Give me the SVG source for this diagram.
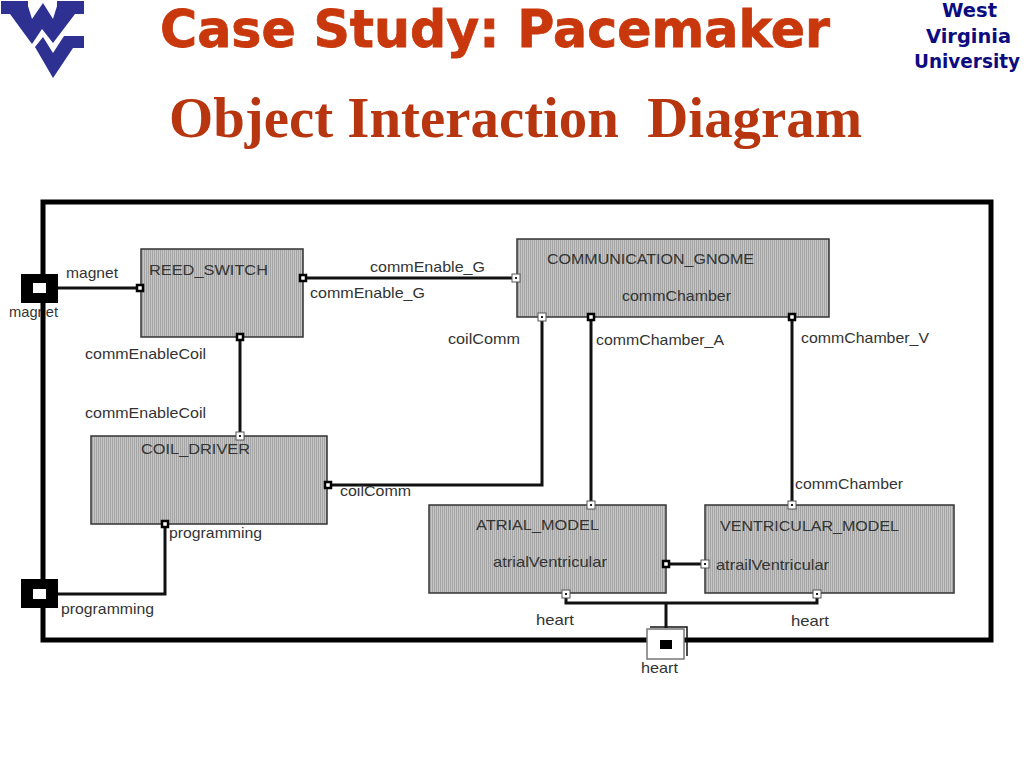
<svg xmlns="http://www.w3.org/2000/svg" width="1024" height="768" viewBox="0 0 1024 768">
<style>
.t{font-family:"Liberation Sans",Arial,sans-serif;font-size:15px;fill:#333}
.n{fill:url(#hatch);stroke:#333;stroke-width:1.5}
.c{fill:none;stroke:#111;stroke-width:3}
.po{fill:#fff;stroke:#000;stroke-width:2.5}
.pi{fill:#fff;stroke:#555;stroke-width:1}
.d{fill:#222}
.h1{font-family:"DejaVu Sans",sans-serif;font-weight:700;font-size:52px;fill:#c8380c;stroke:#c8380c;stroke-width:.8}
.h2{font-family:"Liberation Serif",serif;font-weight:700;font-size:57px;fill:#b8360f;white-space:pre}
.w{font-family:"DejaVu Sans",sans-serif;font-weight:700;font-size:19px;fill:#0c0c80}
</style>
<defs>
<pattern id="hatch" width="2" height="2" patternUnits="userSpaceOnUse"><rect width="2" height="2" fill="#c6c6c6"/><rect width="1" height="2" fill="#a4a4a4"/></pattern>
</defs>
<rect width="1024" height="768" fill="#fff"/>
<g id="logo"><path fill="#2e3192" d="M1 1H28V6L32 19L43 3L53 19L57 6V1H84V14H75L53 43L42 29L32 44L10 14H1Z"/><path fill="#2e3192" d="M35 47L43 37L53 53L64 36H84V48H73L53 78Z"/></g>
<text class="h1" x="160" y="47" textLength="670" lengthAdjust="spacingAndGlyphs">Case Study: Pacemaker</text>
<text class="h2" x="169" y="137" textLength="693" lengthAdjust="spacingAndGlyphs">Object Interaction  Diagram</text>
<text class="w" x="942" y="17" textLength="55" lengthAdjust="spacingAndGlyphs">West</text><text class="w" x="926" y="43" textLength="85" lengthAdjust="spacingAndGlyphs">Virginia</text><text class="w" x="914" y="68" textLength="106" lengthAdjust="spacingAndGlyphs">University</text>
<text class="t" x="9" y="317" textLength="49" lengthAdjust="spacingAndGlyphs">magnet</text>
<rect id="boundary" x="43" y="202" width="948" height="438" fill="none" stroke="#000" stroke-width="5"/>
<g id="connectors">
<path class="c" d="M58 288H140"/>
<path class="c" d="M303 278H516"/>
<path class="c" d="M240 337V436"/>
<path class="c" d="M328 485H542V317"/>
<path class="c" d="M591 317V505"/>
<path class="c" d="M792 317V505"/>
<path class="c" d="M165 524V594H58"/>
<path class="c" d="M666 564H704"/>
<path class="c" d="M566 594V603H817V594"/>
<path class="c" d="M666 603V628"/>
</g>
<g id="reed_switch"><rect class="n" x="141" y="249" width="162" height="88"/><text class="t" x="149" y="275" textLength="119" lengthAdjust="spacingAndGlyphs">REED_SWITCH</text></g>
<g id="communication_gnome"><rect class="n" x="517" y="239" width="312" height="78"/><text class="t" x="547" y="264" textLength="207" lengthAdjust="spacingAndGlyphs">COMMUNICATION_GNOME</text><text class="t" x="622" y="301" textLength="109" lengthAdjust="spacingAndGlyphs">commChamber</text></g>
<g id="coil_driver"><rect class="n" x="91" y="436" width="236" height="88"/><text class="t" x="141" y="454" textLength="109" lengthAdjust="spacingAndGlyphs">COIL_DRIVER</text></g>
<g id="atrial_model"><rect class="n" x="429" y="505" width="237" height="88"/><text class="t" x="476" y="530" textLength="123" lengthAdjust="spacingAndGlyphs">ATRIAL_MODEL</text><text class="t" x="493" y="567" textLength="114" lengthAdjust="spacingAndGlyphs">atrialVentricular</text></g>
<g id="ventricular_model"><rect class="n" x="705" y="505" width="249" height="88"/><text class="t" x="720" y="531" textLength="179" lengthAdjust="spacingAndGlyphs">VENTRICULAR_MODEL</text><text class="t" x="716" y="570" textLength="113" lengthAdjust="spacingAndGlyphs">atrailVentricular</text></g>
<g id="port_magnet"><rect x="21" y="274" width="37" height="29" fill="#000"/><rect x="33" y="283" width="13" height="10" fill="#fff"/></g>
<g id="port_programming"><rect x="21" y="579" width="37" height="29" fill="#000"/><rect x="33" y="589" width="13" height="10" fill="#fff"/><text class="t" x="61" y="614" textLength="93" lengthAdjust="spacingAndGlyphs">programming</text></g>
<g id="port_heart"><path d="M650 627H687V656" fill="none" stroke="#111" stroke-width="1.5"/><rect x="647" y="629" width="37" height="30" fill="#fff" stroke="#777" stroke-width="1.5"/><rect x="660" y="640" width="12" height="9" fill="#000"/><text class="t" x="641" y="673" textLength="37" lengthAdjust="spacingAndGlyphs">heart</text></g>
<g id="ports">
<rect class="po" x="137" y="285" width="6" height="6"/>
<rect class="po" x="300" y="275" width="6" height="6"/>
<rect class="po" x="237" y="334" width="6" height="6"/>
<rect class="po" x="325" y="482" width="6" height="6"/>
<rect class="po" x="162" y="521" width="6" height="6"/>
<rect class="po" x="588" y="314" width="6" height="6"/>
<rect class="po" x="789" y="314" width="6" height="6"/>
<rect class="po" x="663" y="561" width="6" height="6"/>
<rect class="pi" x="512" y="274" width="8" height="8"/><rect class="d" x="515" y="277" width="2" height="2"/>
<rect class="pi" x="538" y="313" width="8" height="8"/><rect class="d" x="541" y="316" width="2" height="2"/>
<rect class="pi" x="236" y="432" width="8" height="8"/><rect class="d" x="239" y="435" width="2" height="2"/>
<rect class="pi" x="587" y="501" width="8" height="8"/><rect class="d" x="590" y="504" width="2" height="2"/>
<rect class="pi" x="788" y="501" width="8" height="8"/><rect class="d" x="791" y="504" width="2" height="2"/>
<rect class="pi" x="701" y="560" width="8" height="8"/><rect class="d" x="704" y="563" width="2" height="2"/>
<rect class="pi" x="562" y="590" width="8" height="8"/><rect class="d" x="565" y="593" width="2" height="2"/>
<rect class="pi" x="813" y="590" width="8" height="8"/><rect class="d" x="816" y="593" width="2" height="2"/>
</g>
<g id="labels">
<text class="t" x="66" y="278" textLength="52" lengthAdjust="spacingAndGlyphs">magnet</text>
<text class="t" x="370" y="272" textLength="115" lengthAdjust="spacingAndGlyphs">commEnable_G</text>
<text class="t" x="310" y="298" textLength="115" lengthAdjust="spacingAndGlyphs">commEnable_G</text>
<text class="t" x="85" y="359" textLength="121" lengthAdjust="spacingAndGlyphs">commEnableCoil</text>
<text class="t" x="85" y="418" textLength="121" lengthAdjust="spacingAndGlyphs">commEnableCoil</text>
<text class="t" x="448" y="344" textLength="72" lengthAdjust="spacingAndGlyphs">coilComm</text>
<text class="t" x="596" y="345" textLength="128" lengthAdjust="spacingAndGlyphs">commChamber_A</text>
<text class="t" x="801" y="343" textLength="128" lengthAdjust="spacingAndGlyphs">commChamber_V</text>
<text class="t" x="340" y="496" textLength="71" lengthAdjust="spacingAndGlyphs">coilComm</text>
<text class="t" x="795" y="489" textLength="108" lengthAdjust="spacingAndGlyphs">commChamber</text>
<text class="t" x="169" y="538" textLength="93" lengthAdjust="spacingAndGlyphs">programming</text>
<text class="t" x="536" y="625" textLength="38" lengthAdjust="spacingAndGlyphs">heart</text>
<text class="t" x="791" y="626" textLength="38" lengthAdjust="spacingAndGlyphs">heart</text>
</g>
</svg>
